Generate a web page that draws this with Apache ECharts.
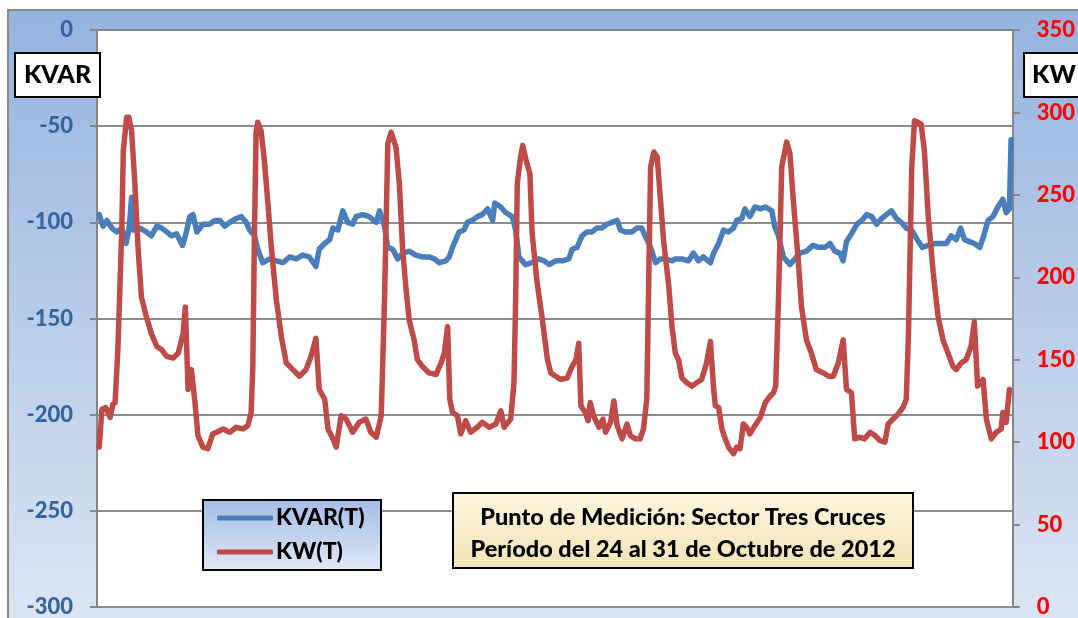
<!DOCTYPE html>
<html>
<head>
<meta charset="utf-8">
<script src="https://cdn.jsdelivr.net/npm/echarts@6/dist/echarts.min.js"></script>
<style>
    html, body { margin: 0; padding: 0; background: #fff; }
    #chart { width: 1078px; height: 618px; }
</style>
</head>
<body>
<div id="chart"></div>
<script>
// horas desde el inicio de la medición (24/10/2012)
var kvarHours = [0.4, 1.1, 1.8, 2.7, 3.6, 4.5, 5.3, 5.9, 6.3, 6.6, 7.8, 9.0, 9.9, 10.9, 11.8, 12.7, 13.6, 14.5, 15.6, 16.3,
    16.9, 17.5, 18.2, 19.3, 20.5, 21.5, 22.4, 23.3, 24.2, 25.4, 26.3, 27.2, 27.8, 28.7, 29.3, 30.2, 31.5, 32.7, 33.9, 35.1,
    36.3, 37.5, 38.7, 39.9, 40.5, 41.5, 42.4, 43.0, 43.9, 44.8, 45.7, 46.6, 47.2, 48.4, 49.6, 50.9, 51.5, 52.4, 53.0, 53.9,
    54.8, 55.7, 56.9, 58.1, 59.3, 60.5, 61.5, 62.4, 63.6, 64.2, 64.8, 65.4, 66.0, 66.9, 67.5, 68.4, 69.3, 70.2, 71.2, 72.1,
    72.5, 73.6, 74.5, 75.7, 76.3, 76.9, 78.1, 79.3, 80.5, 81.5, 82.4, 83.6, 84.8, 86.0, 86.6, 87.5, 88.4, 89.3, 90.2, 91.1,
    92.0, 92.9, 93.9, 94.8, 95.4, 96.3, 97.5, 98.4, 99.3, 99.9, 100.9, 101.8, 102.7, 103.6, 104.8, 105.4, 106.6, 107.8, 108.7, 109.6,
    110.5, 111.8, 112.4, 113.3, 114.2, 115.1, 116.0, 116.6, 117.5, 118.1, 119.0, 119.9, 120.9, 121.8, 123.0, 123.5, 124.2, 125.1, 126.3, 127.2,
    128.1, 129.3, 130.5, 131.5, 132.7, 133.6, 134.5, 135.4, 136.0, 136.6, 137.5, 138.5, 139.4, 140.3, 141.2, 142.1, 143.0, 143.9, 144.8, 145.7,
    146.6, 147.5, 148.5, 149.5, 150.4, 151.5, 152.7, 153.9, 154.8, 155.7, 156.6, 157.4, 158.1, 159.0, 159.9, 160.9, 161.5, 162.4, 163.3, 164.2,
    165.1, 165.7, 166.3, 166.6];
var kvarValues = [-96, -102, -99, -103, -105, -103, -111, -102, -87, -104, -103, -105, -107, -102, -103, -105, -107, -106, -112, -105,
    -97, -96, -105, -101, -101, -99, -99, -102, -100, -98, -97, -100, -104, -107, -114, -121, -119, -120, -121, -118,
    -119, -117, -118, -123, -114, -111, -109, -103, -104, -94, -100, -101, -97, -96, -97, -100, -94, -102, -113, -114,
    -119, -116, -115, -117, -118, -118, -119, -121, -120, -118, -113, -109, -105, -104, -100, -99, -97, -96, -93, -99,
    -90, -92, -95, -97, -104, -118, -122, -121, -119, -120, -122, -120, -120, -119, -114, -113, -107, -105, -105, -103,
    -103, -101, -100, -99, -104, -105, -105, -103, -103, -107, -113, -121, -119, -119, -120, -119, -119, -120, -116, -120,
    -118, -121, -116, -111, -104, -105, -103, -99, -98, -93, -97, -92, -93, -92, -94, -102, -107, -118, -122, -119,
    -116, -115, -112, -113, -113, -111, -115, -116, -120, -110, -106, -101, -99, -96, -97, -101, -98, -96, -94, -98,
    -100, -103, -104, -109, -113, -112, -111, -111, -111, -107, -109, -103, -109, -110, -111, -113, -108, -99, -97, -92,
    -88, -95, -93, -57];

var kwHours = [0.4, 0.9, 1.6, 2.4, 2.9, 3.3, 3.8, 4.5, 4.8, 5.4, 5.8, 6.3, 6.9, 7.5, 8.1, 9.0, 9.9, 10.9, 11.8, 12.7,
    13.9, 14.8, 15.7, 16.1, 16.6, 17.2, 17.8, 18.4, 19.3, 20.2, 21.1, 21.8, 23.0, 24.2, 25.4, 26.6, 27.5, 28.1, 28.4, 28.7,
    29.0, 29.3, 29.9, 30.5, 31.1, 31.8, 32.7, 33.6, 34.5, 35.7, 36.9, 38.1, 39.0, 39.9, 40.5, 41.5, 42.1, 43.0, 43.6, 44.5,
    45.4, 46.6, 47.8, 49.0, 49.9, 50.9, 51.8, 52.4, 53.0, 53.6, 54.5, 55.1, 55.7, 56.3, 56.9, 57.8, 58.4, 59.3, 60.5, 61.8,
    62.7, 63.3, 63.9, 64.3, 64.8, 65.7, 66.3, 67.2, 68.1, 69.3, 70.2, 71.5, 72.7, 73.6, 74.2, 75.4, 76.0, 76.3, 76.6, 77.2,
    77.6, 78.2, 78.9, 79.3, 80.2, 81.1, 82.1, 82.7, 83.6, 84.5, 85.7, 86.6, 87.3, 87.8, 88.2, 89.0, 89.5, 89.9, 90.5, 91.5,
    92.2, 92.7, 93.6, 94.2, 94.8, 95.7, 96.6, 97.2, 98.1, 99.0, 99.6, 100.2, 100.5, 100.9, 101.5, 102.1, 102.7, 103.3, 104.2, 104.8,
    105.4, 106.0, 106.6, 107.5, 108.4, 109.3, 110.2, 111.1, 111.8, 112.4, 112.7, 113.3, 113.9, 114.5, 115.1, 116.0, 116.6, 117.2, 117.8, 118.4,
    119.0, 119.9, 120.9, 121.8, 122.7, 123.3, 123.7, 124.2, 124.8, 125.7, 126.3, 126.9, 127.8, 128.4, 129.3, 130.2, 131.1, 132.4, 133.3, 134.2,
    135.1, 136.0, 136.6, 137.5, 138.1, 139.0, 139.9, 140.9, 141.8, 142.7, 143.6, 144.2, 145.1, 146.0, 146.9, 147.5, 147.9, 148.5, 149.0, 150.2,
    150.8, 151.5, 152.4, 153.3, 154.2, 155.1, 156.0, 156.6, 157.5, 158.4, 159.3, 159.9, 160.5, 161.5, 162.1, 163.0, 163.9, 164.8, 165.1, 165.7,
    166.3];
var kwValues = [97, 120, 121, 115, 123, 124, 156, 227, 277, 297, 297, 289, 257, 217, 188, 176, 166, 158, 156, 152,
    151, 154, 166, 182, 132, 144, 126, 104, 97, 96, 105, 106, 108, 106, 109, 108, 110, 118, 146, 227,
    288, 294, 289, 271, 247, 217, 186, 164, 148, 144, 140, 144, 152, 163, 132, 126, 108, 102, 97, 116,
    114, 106, 112, 114, 106, 103, 116, 186, 281, 288, 279, 257, 217, 194, 174, 162, 150, 146, 142, 141,
    148, 154, 170, 126, 118, 116, 105, 113, 106, 109, 112, 109, 111, 119, 109, 114, 136, 186, 257, 273,
    280, 271, 263, 227, 197, 176, 150, 142, 140, 138, 139, 146, 150, 160, 122, 118, 113, 124, 116, 109,
    114, 106, 112, 125, 110, 102, 111, 104, 102, 102, 108, 126, 186, 267, 276, 273, 247, 221, 195, 170,
    154, 150, 139, 136, 134, 136, 138, 148, 161, 132, 122, 121, 108, 102, 97, 93, 97, 96, 111, 109,
    105, 110, 115, 124, 128, 130, 134, 186, 267, 282, 275, 247, 211, 182, 162, 154, 144, 142, 140, 140,
    148, 162, 132, 130, 102, 103, 102, 106, 104, 101, 100, 111, 114, 117, 121, 126, 166, 267, 295, 293,
    277, 237, 203, 176, 162, 154, 146, 144, 148, 150, 158, 173, 134, 138, 114, 102, 106, 108, 118, 112,
    132];

var kvarTicks = [-300, -250, -200, -150, -100, -50, 0];
var kwTicks = [0, 50, 100, 150, 200, 250, 300, 350];

function zip(xs, ys) {
    var out = [];
    for (var i = 0; i < xs.length; i++) {
        out.push([xs[i], ys[i]]);
    }
    return out;
}

var FONT = 'Lato';
var myChart = echarts.init(document.getElementById('chart'));

var option = {
    animation: false,
    textStyle: { fontFamily: FONT },
    grid: {
        left: 97, right: 63, top: 30, bottom: 10,
        show: true, backgroundColor: '#ffffff', borderWidth: 0
    },
    legend: {
        orient: 'vertical',
        left: 217, top: 506,
        padding: 0,
        itemGap: 10,
        itemWidth: 56, itemHeight: 5,
        icon: 'roundRect',
        z: 20,
        textStyle: { fontFamily: FONT, fontWeight: 900, fontSize: 23, color: '#000', lineHeight: 24, padding: [0, 0, 0, -2] },
        data: ['KVAR(T)', 'KW(T)']
    },
    xAxis: {
        type: 'value',
        min: 0, max: 166.9,
        axisLine: { show: true, lineStyle: { color: '#868686', width: 2 } },
        axisTick: { show: false },
        axisLabel: { show: false },
        splitLine: { show: false }
    },
    yAxis: [
        {
            type: 'value',
            min: kvarTicks[0], max: kvarTicks[kvarTicks.length - 1], interval: 50,
            position: 'left',
            axisLine: { show: true, lineStyle: { color: '#868686', width: 2 } },
            axisTick: { show: true, length: 7, lineStyle: { color: '#868686', width: 2 } },
            axisLabel: { margin: 24, color: '#35659d', fontFamily: FONT, fontWeight: 900, fontSize: 22 },
            splitLine: { show: true, lineStyle: { color: '#8c8c8c', width: 2 } }
        },
        {
            type: 'value',
            min: kwTicks[0], max: kwTicks[kwTicks.length - 1], interval: 50,
            position: 'right',
            axisLine: { show: true, lineStyle: { color: '#868686', width: 2 } },
            axisTick: { show: true, length: 7, lineStyle: { color: '#868686', width: 2 } },
            axisLabel: { margin: 24, color: '#ff0000', fontFamily: FONT, fontWeight: 900, fontSize: 22 },
            splitLine: { show: false }
        }
    ],
    series: [
        {
            name: 'KVAR(T)',
            type: 'line',
            yAxisIndex: 0,
            symbol: 'none',
            color: '#4a7ebb',
            lineStyle: { color: '#4a7ebb', width: 5.5, join: 'round', cap: 'round' },
            data: zip(kvarHours, kvarValues)
        },
        {
            name: 'KW(T)',
            type: 'line',
            yAxisIndex: 1,
            symbol: 'none',
            color: '#be4b48',
            lineStyle: { color: '#be4b48', width: 5.5, join: 'round', cap: 'round' },
            data: zip(kwHours, kwValues)
        }
    ],
    graphic: [
        // fondo del área del gráfico
        {
            type: 'rect', z: -1, silent: true,
            shape: { x: 8, y: 10, width: 1080, height: 620 },
            style: {
                fill: new echarts.graphic.LinearGradient(0, 0, 0, 1, [
                    { offset: 0, color: '#95b3df' },
                    { offset: 1, color: '#dde6f3' }
                ]),
                stroke: '#8a8a8a', lineWidth: 2
            }
        },
        // caja de la leyenda
        {
            type: 'rect', z: 15, silent: true,
            shape: { x: 203, y: 500, width: 178, height: 70 },
            style: {
                fill: new echarts.graphic.LinearGradient(0, 0, 0, 1, [
                    { offset: 0, color: '#a3bce6' },
                    { offset: 1, color: '#e0e8f5' }
                ]),
                stroke: '#000', lineWidth: 2
            }
        },
        // título eje izquierdo
        {
            type: 'rect', z: 15, silent: true,
            shape: { x: 15, y: 53, width: 85, height: 44 },
            style: { fill: '#fff', stroke: '#000', lineWidth: 2 }
        },
        {
            type: 'text', z: 16, silent: true,
            style: { x: 57.5, y: 75, text: 'KVAR', align: 'center', verticalAlign: 'middle',
                font: '900 25px ' + FONT, fill: '#000' }
        },
        // título eje derecho
        {
            type: 'rect', z: 15, silent: true,
            shape: { x: 1024, y: 53, width: 80, height: 44 },
            style: { fill: '#fff', stroke: '#000', lineWidth: 2 }
        },
        {
            type: 'text', z: 16, silent: true,
            style: { x: 1032, y: 75, text: 'KW', align: 'left', verticalAlign: 'middle',
                font: '900 25px ' + FONT, fill: '#000' }
        },
        // cuadro de texto
        {
            type: 'rect', z: 15, silent: true,
            shape: { x: 453, y: 493, width: 460, height: 75 },
            style: {
                fill: new echarts.graphic.LinearGradient(0, 0, 0, 1, [
                    { offset: 0, color: '#fef7e0' },
                    { offset: 1, color: '#f2e2b6' }
                ]),
                stroke: '#000', lineWidth: 2
            }
        },
        {
            type: 'text', z: 16, silent: true,
            style: { x: 683, y: 517, text: 'Punto de Medición: Sector Tres Cruces', align: 'center', verticalAlign: 'middle',
                font: '900 23.5px ' + FONT, fill: '#000' }
        },
        {
            type: 'text', z: 16, silent: true,
            style: { x: 683, y: 549, text: 'Período del 24 al 31 de Octubre de 2012', align: 'center', verticalAlign: 'middle',
                font: '900 23.5px ' + FONT, fill: '#000' }
        }
    ]
};

myChart.setOption(option);
</script>
</body>
</html>
